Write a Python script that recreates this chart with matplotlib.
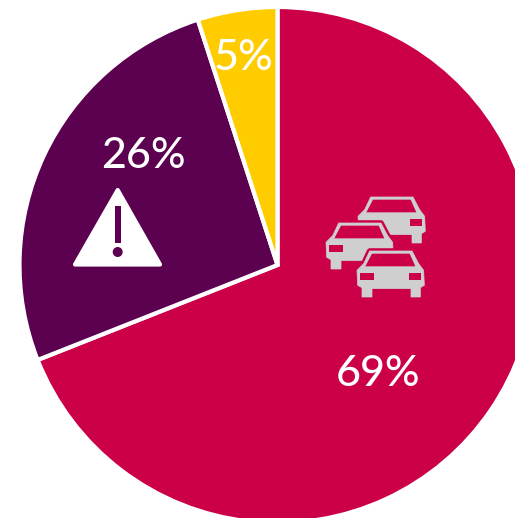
import matplotlib
matplotlib.use("Agg")
import matplotlib.pyplot as plt
from matplotlib.patches import Polygon, Circle, Rectangle

W = 515
H = 518

labels = ["69%", "26%", "5%"]
shares = [69, 26, 5]
colors = ["#CC0049", "#5C0050", "#FFCC00"]
label_pos = [(378, 374), (143, 156), (244, 58)]

CAR_GREY = "#CFCFCF"


def py(y):
    # positions below are measured from the top left corner
    return H - y


def car(ax, dx, dy, z, left=True, right=True, s=1 / 3):
    body = [(38, 0), (165, 0), (185, 38), (200, 58), (202, 103), (190, 110), (190, 138),
            (162, 138), (162, 113), (45, 113), (45, 138), (15, 138), (15, 110),
            (2, 103), (0, 58), (20, 38)]
    glass = [(45, 8), (158, 8), (175, 46), (25, 46)]
    lamp_l = [(10, 66), (50, 66), (50, 86), (10, 86)]
    lamp_r = [(155, 66), (192, 66), (192, 86), (155, 86)]
    def pts(shape):
        return [(dx + x * s, py(dy + y * s)) for x, y in shape]
    # red halo keeps a gap to the car behind
    ax.add_patch(Polygon(pts(body), closed=True, fc=colors[0], ec=colors[0], lw=4,
                         joinstyle="round", zorder=z))
    ax.add_patch(Polygon(pts(body), closed=True, fc=CAR_GREY, ec=CAR_GREY, lw=0.5,
                         joinstyle="round", zorder=z + 0.1))
    ax.add_patch(Polygon(pts(glass), closed=True, fc=colors[0], ec="none", zorder=z + 0.2))
    if left:
        ax.add_patch(Polygon(pts(lamp_l), closed=True, fc=colors[0], ec="none", zorder=z + 0.2))
    if right:
        ax.add_patch(Polygon(pts(lamp_r), closed=True, fc=colors[0], ec="none", zorder=z + 0.2))


def warning(ax):
    ax.add_patch(Polygon([(117.7, py(190)), (75, py(264.5)), (160, py(264.5))], closed=True,
                         fc="white", ec="white", lw=3, joinstyle="round", zorder=5))
    ax.add_patch(Rectangle((115, py(243)), 6, 37, fc=colors[1], ec="none", zorder=6))
    ax.add_patch(Circle((117.7, py(252)), 5, fc=colors[1], ec="none", zorder=6))


fig = plt.figure(figsize=(W / 100, H / 100), dpi=100)
ax = fig.add_axes([0, 0, 1, 1])

ax.pie(shares, colors=colors, startangle=90, counterclock=False, radius=258,
       center=(277.5, py(265)), frame=True,
       wedgeprops={"edgecolor": "white", "linewidth": 3})

ax.set_xlim(0, W)
ax.set_ylim(0, H)
ax.set_aspect("equal")
ax.axis("off")

for text, (x, y) in zip(labels, label_pos):
    ax.text(x, py(y), text, color="white", fontsize=31, family="Lato", fontweight="medium",
            ha="center", va="center", zorder=7)

# back to front so each car overlaps the one behind it
car(ax, 358, 197, 5, left=False)
car(ax, 326, 223, 6, right=False)
car(ax, 357, 251, 7)
warning(ax)

fig.savefig("out.png", dpi=100)
